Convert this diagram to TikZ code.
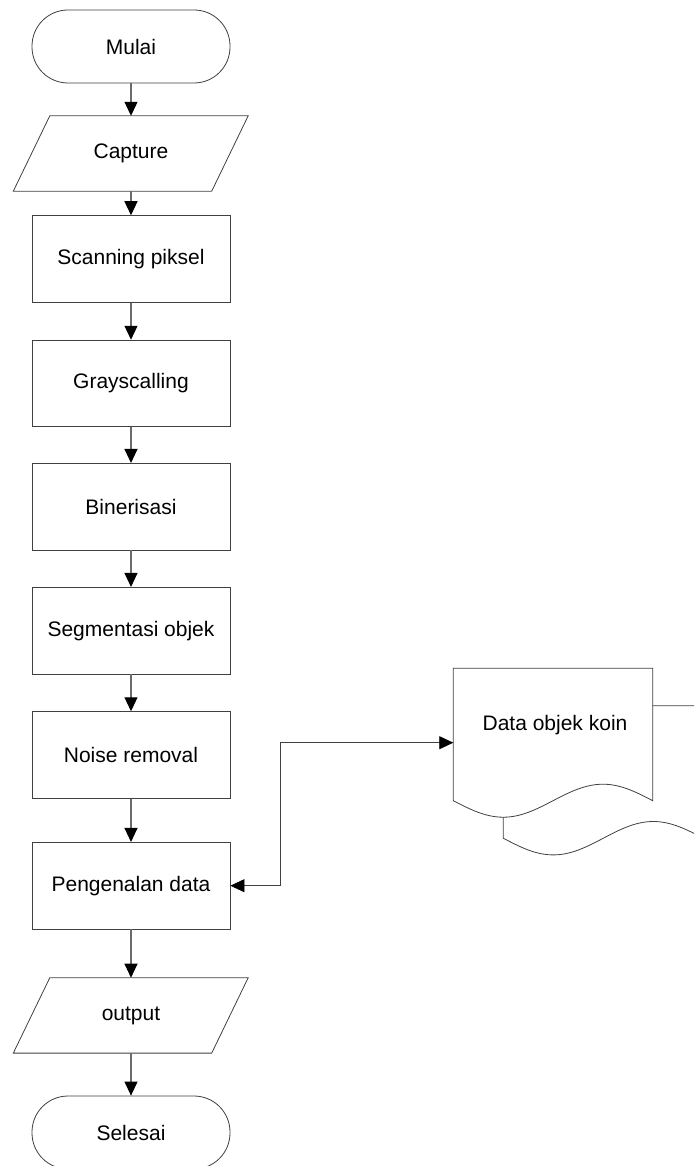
\documentclass[tikz,border=0pt]{standalone}
\usepackage{fontspec}
\setmainfont{Liberation Sans}
\usetikzlibrary{arrows.meta}
\definecolor{edge}{gray}{0.25}
\definecolor{shaft}{gray}{0.42}
\tikzset{
  shapeline/.style={draw=edge, line width=0.8pt},
  procbox/.style={shapeline, fill=white, rectangle, minimum width=198pt, minimum height=86.7pt, inner sep=0pt, font=\fontsize{21}{25}\selectfont},
  termbox/.style={shapeline, fill=white, rectangle, rounded corners=36pt, minimum width=198pt, minimum height=73pt, inner sep=0pt, font=\fontsize{21}{25}\selectfont},
  iobox/.style={rectangle, minimum width=198pt, minimum height=75pt, inner sep=0pt, font=\fontsize{21}{25}\selectfont},
  flow/.style={draw=shaft, line width=1.1pt, -{Triangle[width=13pt,length=14pt,fill=black,color=black]}},
  link/.style={draw=edge, line width=0.8pt, {Triangle[width=13pt,length=14pt,fill=black,color=black]}-{Triangle[width=13pt,length=14pt,fill=black,color=black]}},
  txt/.style={inner sep=0pt, font=\fontsize{21}{25}\selectfont}
}
\begin{document}
\begin{tikzpicture}[x=1pt,y=-1pt]
\useasboundingbox (0,0) rectangle (694,1166);
\clip (0,0) rectangle (694,1166);
% background document (partially hidden)
\draw[shapeline, fill=white] (503.3,705.7) -- (503.3,838.2) sin (553.3,854.9) cos (603.3,838.2) sin (653.3,821.5) cos (703.3,838.2) -- (703.3,705.7) -- cycle;
% front document
\draw[shapeline, fill=white] (453.3,668.3) -- (453.3,800.7) sin (503.3,817.2) cos (553,800.7) sin (603,784.2) cos (652.7,800.7) -- (652.7,668.3) -- cycle;
\node[txt] (doc) at (555,725) {Data objek koin};
\coordinate (docin) at (453.3,742.7);

\node[termbox] (start) at (131,46.5) {Mulai};
\node[iobox] (cap) at (131,153.5) {Capture};
\draw[shapeline] ([xshift=18pt]cap.north west) -- ([xshift=18pt]cap.north east) -- ([xshift=-18.5pt]cap.south east) -- ([xshift=-18.5pt]cap.south west) -- cycle;
\node[procbox] (scan) at (131,259) {Scanning piksel};
\node[procbox] (gray) at (131,383.5) {Grayscalling};
\node[procbox] (bin) at (131,506.7) {Binerisasi};
\node[procbox] (seg) at (131,630.7) {Segmentasi objek};
\node[procbox] (noise) at (131,755) {Noise removal};
\node[procbox] (peng) at (131,885.7) {Pengenalan data};
\node[iobox] (out) at (131,1015.4) {output};
\draw[shapeline] ([xshift=18pt]out.north west) -- ([xshift=18pt]out.north east) -- ([xshift=-18.5pt]out.south east) -- ([xshift=-18.5pt]out.south west) -- cycle;
\node[termbox] (end) at (131,1132.5) {Selesai};

\draw[flow] (start) -- (cap);
\draw[flow] (cap) -- (scan);
\draw[flow] (scan) -- (gray);
\draw[flow] (gray) -- (bin);
\draw[flow] (bin) -- (seg);
\draw[flow] (seg) -- (noise);
\draw[flow] (noise) -- (peng);
\draw[flow] (peng) -- (out);
\draw[flow] (out) -- (end);

\coordinate (jog) at (280,742.7);
\draw[link] (docin) -- (jog) |- (peng.east);
\end{tikzpicture}
\end{document}
